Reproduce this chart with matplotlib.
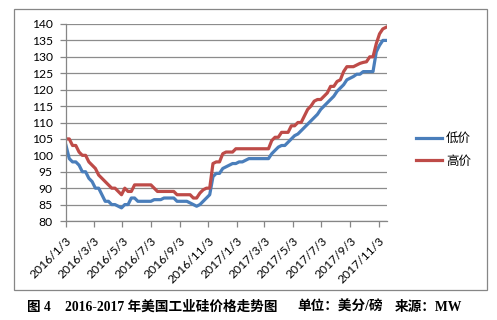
import matplotlib
matplotlib.use('Agg')
import matplotlib.pyplot as plt
import pandas as pd
from matplotlib.patches import Rectangle

# ---- data (weekly) ----
low = [103, 99, 98, 98, 97, 95, 95, 93, 92, 90,
       90, 88, 86, 86, 85, 85, 84.5, 84, 85, 85,
       87, 87, 86, 86, 86, 86, 86, 86.5, 86.5, 86.5,
       87, 87, 87, 87, 86, 86, 86, 86, 85.5, 85,
       84.5, 85, 86, 87, 88, 93.5, 94.5, 94.5, 96, 96.5,
       97, 97.5, 97.5, 98, 98, 98.5, 99, 99, 99, 99,
       99, 99, 99, 100.5, 101.5, 102.5, 103, 103, 104, 105,
       106, 106.5, 107.5, 108.5, 109.5, 110.5, 111.5, 112.5, 114, 115,
       116, 117, 118, 119.5, 120.5, 121.5, 123, 123.5, 124, 124.7,
       124.7, 125.5, 125.5, 125.5, 125.5, 131.5, 133.5, 135, 135]
high = [105, 105, 103, 103, 101, 100, 100, 98, 97, 96,
        94, 93, 92, 91, 90, 90, 89, 88, 90, 89,
        89, 91, 91, 91, 91, 91, 91, 90, 89, 89,
        89, 89, 89, 89, 88, 88, 88, 88, 88, 87,
        87, 88.5, 89.5, 90, 90, 97.5, 98, 98, 100.5, 101,
        101, 101, 102, 102, 102, 102, 102, 102, 102, 102,
        102, 102, 102, 104.5, 105.5, 105.5, 107, 107, 107, 109,
        109, 110, 110, 112, 114, 115, 116.5, 117, 117, 118,
        119, 121, 121, 122.5, 123, 125.5, 127, 127, 127, 127.5,
        128, 128.3, 128.5, 130, 130, 134, 137, 138.5, 139]
start_date = '2016-01-03'
series_names = ['低价', '高价']
tick_labels = ['2016/1/3', '2016/3/3', '2016/5/3', '2016/7/3', '2016/9/3', '2016/11/3',
               '2017/1/3', '2017/3/3', '2017/5/3', '2017/7/3', '2017/9/3', '2017/11/3']
y_ticks = list(range(80, 141, 5))
caption_parts = ['图 4', '2016-2017 年美国工业硅价格走势图', '单位：美分/磅', '来源：MW']

dates = pd.date_range(start_date, periods=len(low), freq='7D')
tick_dates = pd.to_datetime(tick_labels, format='%Y/%m/%d')

plt.rcParams['font.family'] = ['Lato', 'Noto Sans CJK SC', 'DejaVu Sans']

W, H = 497, 320
fig = plt.figure(figsize=(W / 100, H / 100), dpi=100)
ax = fig.add_axes([66 / W, 1 - 221 / H, (387 - 66) / W, (221 - 24) / H])

ax.plot(dates, low, color='#4A7EBB', lw=2.3, label=series_names[0])
ax.plot(dates, high, color='#BE4B48', lw=2.3, label=series_names[1])

ax.set_ylim(80, 140)
ax.set_yticks(y_ticks)
ax.set_xlim(dates[0], pd.Timestamp('2017-11-21'))
ax.set_xticks(tick_dates)
ax.set_xticklabels(tick_labels, rotation=45, ha='right', rotation_mode='anchor')
ax.grid(axis='y', color='#8C8C8C', lw=0.9)
ax.set_axisbelow(True)
for s in ['top', 'right']:
    ax.spines[s].set_visible(False)
for s in ['left', 'bottom']:
    ax.spines[s].set_color('#868686')
    ax.spines[s].set_linewidth(0.9)
ax.tick_params(axis='both', colors='#868686', labelcolor='black', length=4, width=0.9, labelsize=8.7)
ax.tick_params(axis='y', pad=5.5)
ax.tick_params(axis='x', pad=6)

ax.legend(loc='center left', bbox_to_anchor=(416 / W, 1 - 149.5 / H), bbox_transform=fig.transFigure,
          frameon=False, fontsize=9, handlelength=2.1, handletextpad=0.3, labelspacing=0.85,
          borderpad=0, borderaxespad=0)

fig.add_artist(Rectangle((14 / W, 1 - 290 / H), 473 / W, 281 / H, transform=fig.transFigure,
                         fill=False, ec='#868686', lw=0.9))

cap_x = [27, 65, 297, 395]
for x, t in zip(cap_x, caption_parts):
    fig.text(x / W, 1 - 307 / H, t, family=['Liberation Serif', 'Noto Sans CJK SC'],
             weight='bold', fontsize=9.8, va='center', ha='left')

fig.savefig('out.png', dpi=100)
